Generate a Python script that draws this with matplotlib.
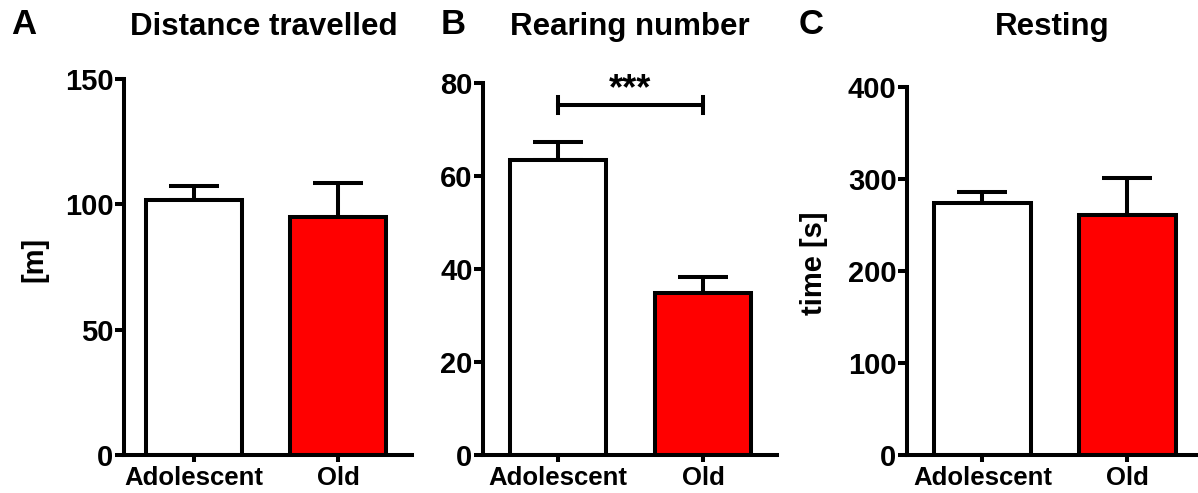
import matplotlib
matplotlib.use("Agg")
import matplotlib.pyplot as plt

plt.rcParams['font.family'] = ['Liberation Sans', 'DejaVu Sans']
plt.rcParams['font.weight'] = 'bold'

groups = ["Adolescent", "Old"]
colors = ["#FFFFFF", "#FF0000"]

titles = ["Distance travelled", "Rearing number", "Resting"]
letters = ["A", "B", "C"]
ylabels = ["[m]", "", "time [s]"]

distance_mean = [101.7, 95.1]
distance_sem = [5.6, 13.5]
rearing_mean = [63.4, 34.9]
rearing_sem = [4.0, 3.4]
resting_mean = [274.2, 260.9]
resting_sem = [12.0, 39.8]

ylims = [150, 80, 400]
yticks = [[0, 50, 100, 150], [0, 20, 40, 60, 80], [0, 100, 200, 300, 400]]

sig_y = 75.3
sig_text = "***"

W, H = 1198, 493
fig = plt.figure(figsize=(W / 100, H / 100), dpi=100)

# axes rectangles in pixels: left, right, top (y=0 at 455)
rects = [(124, 412, 79), (483, 777, 83), (907, 1200, 87)]
xlims = [(-0.486, 1.514), (-0.517, 1.51), (-0.52, 1.5)]
title_x = [264, 630, 1052]
letter_x = [24, 453, 811]
label_x = [-0.264, 0, -0.27]

means = [distance_mean, rearing_mean, resting_mean]
sems = [distance_sem, rearing_sem, resting_sem]

lw = 2.9
for i in range(3):
    l, r, t = rects[i]
    b = 455
    ax = fig.add_axes([l / W, (H - b) / H, (r - l) / W, (b - t) / H])
    x = list(range(len(groups)))
    ax.bar(x, means[i], width=0.667, color=colors, edgecolor="black", linewidth=lw, zorder=2)
    ax.errorbar(x, means[i], yerr=[[0] * len(groups), sems[i]], fmt="none", ecolor="black",
                elinewidth=lw, capsize=18, capthick=lw, zorder=1)
    ax.set_xlim(*xlims[i])
    ax.set_ylim(0, ylims[i])
    ax.set_yticks(yticks[i])
    ax.set_xticks(x)
    ax.set_xticklabels(groups)
    for s in ["top", "right"]:
        ax.spines[s].set_visible(False)
    for s in ["left", "bottom"]:
        ax.spines[s].set_linewidth(lw)
    ax.spines["left"].set_zorder(3)
    ax.spines["bottom"].set_zorder(3)
    ax.tick_params(axis="y", length=6.5, width=lw, labelsize=21, pad=1)
    ax.tick_params(axis="x", length=5, width=lw, labelsize=18.5, pad=3)
    for lab in ax.get_xticklabels() + ax.get_yticklabels():
        lab.set_fontweight("bold")
    if ylabels[i]:
        ax.set_ylabel(ylabels[i], fontsize=21, fontweight="bold")
        ax.yaxis.set_label_coords(label_x[i], 0.52)
    fig.text(title_x[i] / W, 1 - 27 / H, titles[i], fontsize=22.5, fontweight="bold",
             ha="center", va="center")
    fig.text(letter_x[i] / W, 1 - 25 / H, letters[i], fontsize=25, fontweight="bold",
             ha="center", va="center")
    if i == 1:
        ax.plot([0, 1], [sig_y, sig_y], color="black", lw=lw, clip_on=False)
        for xx in [0, 1]:
            ax.plot([xx, xx], [sig_y - 1.7, sig_y + 1.7], color="black", lw=lw, clip_on=False)
        ax.text(0.5, sig_y - 0.5, sig_text, ha="center", va="bottom", fontsize=26, fontweight="bold")

fig.savefig("out.png", dpi=100)
